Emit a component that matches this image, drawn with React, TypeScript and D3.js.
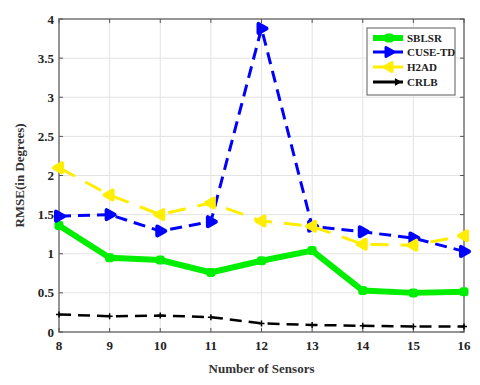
import React from 'react';
import * as d3 from 'd3';

const sensors = [8, 9, 10, 11, 12, 13, 14, 15, 16];
const sblsr = [1.36, 0.95, 0.92, 0.76, 0.91, 1.04, 0.53, 0.5, 0.515];
const cuseTd = [1.48, 1.5, 1.29, 1.41, 3.88, 1.35, 1.28, 1.2, 1.03];
const h2ad = [2.1, 1.75, 1.5, 1.65, 1.42, 1.35, 1.12, 1.11, 1.23];
const crlb = [0.225, 0.2, 0.21, 0.19, 0.11, 0.09, 0.08, 0.07, 0.07];
const yTicks = [0, 0.5, 1, 1.5, 2, 2.5, 3, 3.5, 4];
const seriesNames = ['SBLSR', 'CUSE-TD', 'H2AD', 'CRLB'];

const font = "'Liberation Serif', 'DejaVu Serif', serif";

const App = () => {
    const W = 480, H = 385;
    const left = 59, right = 464, top = 19, bottom = 332;

    const x = d3.scaleLinear().domain([8, 16]).range([left, right]);
    const y = d3.scaleLinear().domain([0, 4]).range([bottom, top]);

    const line = d3.line<number>()
        .x((d, i) => x(sensors[i]))
        .y(d => y(d));

    // blunt triangle marker, dir 1 = right, -1 = left
    const tri = (cx: number, cy: number, dir: number, s: number) =>
        `M${cx + dir * s},${cy} L${cx - dir * s * 0.6},${cy - s * 0.9} L${cx - dir * s * 0.6},${cy + s * 0.9} Z`;

    const series = [
        { name: seriesNames[0], values: sblsr, color: '#00ee00', width: 6, dash: '' },
        { name: seriesNames[1], values: cuseTd, color: '#0000ff', width: 3, dash: '12,7' },
        { name: seriesNames[2], values: h2ad, color: '#ffee00', width: 3, dash: '18,12' },
        { name: seriesNames[3], values: crlb, color: '#000000', width: 2.5, dash: '12,7' },
    ];

    const legendY = [38, 52, 67, 82];

    return (
        <svg width={W} height={H} style={{ position: 'absolute', left: 0, top: 0, background: '#fff' }}>
            {/* grid */}
            {sensors.map(s => (
                <line key={'gx' + s} x1={x(s)} x2={x(s)} y1={top} y2={bottom} stroke="#e3e3e3" strokeWidth={1} />
            ))}
            {yTicks.map(t => (
                <line key={'gy' + t} x1={left} x2={right} y1={y(t)} y2={y(t)} stroke="#e3e3e3" strokeWidth={1} />
            ))}
            {/* axis box */}
            <rect x={left} y={top} width={right - left} height={bottom - top} fill="none" stroke="#777" strokeWidth={1.5} />
            {/* ticks */}
            {sensors.map(s => (
                <g key={'tx' + s}>
                    <line x1={x(s)} x2={x(s)} y1={bottom} y2={bottom - 4} stroke="#555" />
                    <line x1={x(s)} x2={x(s)} y1={top} y2={top + 4} stroke="#555" />
                    <text x={x(s)} y={bottom + 18} textAnchor="middle" fontFamily={font} fontWeight="bold" fontSize={13} fill="#222">{s}</text>
                </g>
            ))}
            {yTicks.map(t => (
                <g key={'ty' + t}>
                    <line x1={left} x2={left + 4} y1={y(t)} y2={y(t)} stroke="#555" />
                    <line x1={right} x2={right - 4} y1={y(t)} y2={y(t)} stroke="#555" />
                    <text x={left - 5} y={y(t) + 4.5} textAnchor="end" fontFamily={font} fontWeight="bold" fontSize={13} fill="#222">{t}</text>
                </g>
            ))}
            {/* series */}
            {series.map((sr, si) => (
                <g key={sr.name}>
                    <path d={line(sr.values) || ''} fill="none" stroke={sr.color} strokeWidth={sr.width}
                        strokeDasharray={sr.dash} strokeLinejoin="round" />
                    {sr.values.map((v, i) => {
                        const cx = x(sensors[i]), cy = y(v);
                        if (si === 0) return <rect key={i} x={cx - 4.5} y={cy - 4.5} width={9} height={9} rx={3} fill={sr.color} />;
                        if (si === 1) return <path key={i} d={tri(cx, cy, 1, 5)} fill={sr.color} stroke={sr.color} strokeWidth={4} strokeLinejoin="round" />;
                        if (si === 2) return <path key={i} d={tri(cx, cy, -1, 5)} fill={sr.color} stroke={sr.color} strokeWidth={4} strokeLinejoin="round" />;
                        return <path key={i} d={`M${cx - 3},${cy} H${cx + 3} M${cx},${cy - 3} V${cy + 3}`} stroke="#000" strokeWidth={1.5} />;
                    })}
                </g>
            ))}
            {/* legend */}
            <rect x={367} y={28} width={88} height={67} fill="#fff" stroke="#777" strokeWidth={1.2} />
            {series.map((sr, i) => {
                const ly = legendY[i];
                const mx = 389;
                return (
                    <g key={'lg' + sr.name}>
                        <line x1={373} x2={403} y1={ly} y2={ly} stroke={sr.color} strokeWidth={i === 0 ? 6 : 3} />
                        {i === 0 && <rect x={mx - 4.5} y={ly - 4.5} width={9} height={9} rx={3} fill={sr.color} />}
                        {i === 1 && <path d={tri(mx, ly, 1, 5)} fill={sr.color} stroke={sr.color} strokeWidth={3} strokeLinejoin="round" />}
                        {i === 2 && <path d={tri(mx, ly, -1, 5)} fill={sr.color} stroke={sr.color} strokeWidth={3} strokeLinejoin="round" />}
                        {i === 3 && <path d={`M${mx + 6},${ly - 3} L${mx + 11},${ly} L${mx + 6},${ly + 3}`} fill="#000" stroke="#000" strokeWidth={1.5} />}
                        <text x={407} y={ly + 4} fontFamily={font} fontWeight="bold" fontSize={11} fill="#222">{sr.name}</text>
                    </g>
                );
            })}
            {/* axis labels */}
            <text x={(left + right) / 2} y={373} textAnchor="middle" fontFamily={font} fontWeight="bold" fontSize={13} fill="#333">Number of Sensors</text>
            <text transform={`translate(24,${(top + bottom) / 2}) rotate(-90)`} textAnchor="middle" fontFamily={font} fontWeight="bold" fontSize={13} fill="#333">RMSE(in Degrees)</text>
        </svg>
    );
};

export default App;
